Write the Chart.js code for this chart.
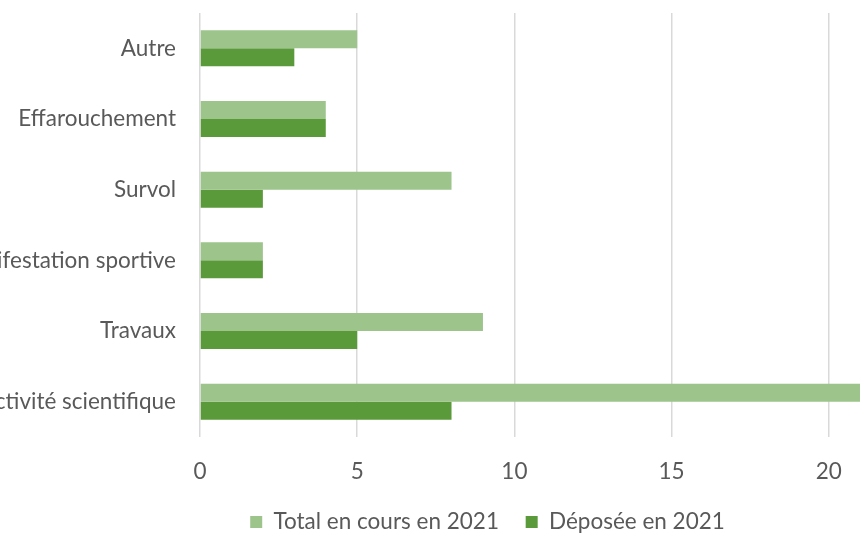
<!DOCTYPE html>
<html>
<head>
<meta charset="utf-8">
<script src="https://cdn.jsdelivr.net/npm/chart.js@4/dist/chart.umd.min.js"></script>
<style>
  html, body { margin: 0; padding: 0; background: #fff; overflow: hidden; }
  body { width: 860px; height: 536px; position: relative; }
  #wrap { position: absolute; left: -39px; top: 0; width: 1062px; height: 536px; }
</style>
</head>
<body>
<div id="wrap"><canvas id="c"></canvas></div>
<script>
const categories = ['Autre', 'Effarouchement', 'Survol', 'Manifestation sportive', 'Travaux', 'Activité scientifique'];
const totalEnCours = [5, 4, 8, 2, 9, 21];
const deposee = [3, 4, 2, 2, 5, 8];
const seriesNames = ['Total en cours en 2021', 'Déposée en 2021'];
const xMin = 0, xMax = 25, xStep = 5;

const FONT = 'Lato, "Open Sans", sans-serif';
const TEXT = '#595959';

new Chart(document.getElementById('c'), {
  type: 'bar',
  data: {
    labels: categories,
    datasets: [
      { label: seriesNames[0], data: totalEnCours, backgroundColor: '#9dc48b', categoryPercentage: 0.51, barPercentage: 1.0 },
      { label: seriesNames[1], data: deposee, backgroundColor: '#5b9a3b', categoryPercentage: 0.51, barPercentage: 1.0 }
    ]
  },
  options: {
    indexAxis: 'y',
    responsive: true,
    maintainAspectRatio: false,
    animation: false,
    layout: { padding: { top: 13, right: 37, bottom: -7.25, left: 28 } },
    scales: {
      x: {
        min: xMin, max: xMax,
        afterFit: (s) => { s.height = 47; s.paddingLeft = 0; s.paddingRight = 0; },
        ticks: { stepSize: xStep, color: TEXT, font: { family: FONT, size: 22.5 }, padding: 21.5 },
        grid: { color: '#d9d9d9', lineWidth: 1.5, drawTicks: false },
        border: { display: false }
      },
      y: {
        afterFit: (s) => { s.width = 211; s.paddingTop = 0; s.paddingBottom = 0; },
        ticks: { color: TEXT, font: { family: FONT, size: 22.5 }, padding: 24 },
        grid: { display: false, drawTicks: false },
        border: { display: false }
      }
    },
    plugins: {
      legend: {
        position: 'bottom',
        labels: { color: TEXT, font: { family: FONT, size: 22.5 }, boxWidth: 12, boxHeight: 12, padding: 26.75 }
      },
      tooltip: { enabled: false }
    }
  }
});
</script>
</body>
</html>
